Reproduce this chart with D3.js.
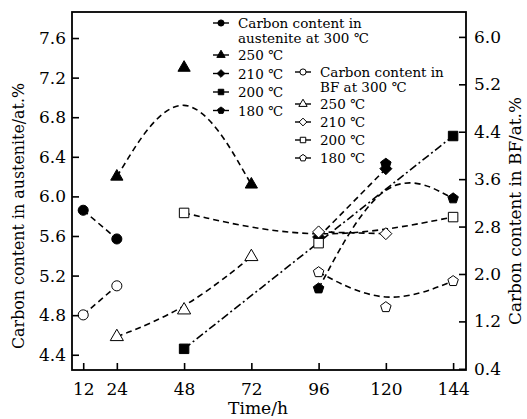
<!doctype html>
<html lang="en">
<head>
<meta charset="UTF-8">
<title>Carbon content vs time</title>
<script src="https://d3js.org/d3.v7.min.js"></script>
<style>
  body { margin: 0; background: #fff; }
  text { font-family: "DejaVu Serif", serif; fill: #000; }
</style>
</head>
<body>
<svg width="527" height="419"></svg>
<script>

// Ticks
const hourTicks = [12, 24, 48, 72, 96, 120, 144];
const leftTicks = [4.4, 4.8, 5.2, 5.6, 6.0, 6.4, 6.8, 7.2, 7.6];
const rightTicks = [0.4, 1.2, 2.0, 2.8, 3.6, 4.4, 5.2, 6.0];

// Carbon content in austenite (left axis, filled markers)
const austHours300 = [12, 24],       austC300 = [5.86, 5.57];
const austHours250 = [24, 48, 72],   austC250 = [6.20, 7.30, 6.12];
const austHours210 = [96, 120],      austC210 = [5.59, 6.28];
const austHours200 = [48, 144],      austC200 = [4.46, 6.61];
const austHours180 = [96, 120, 144], austC180 = [5.07, 6.33, 5.98];

// Carbon content in BF (right axis, open markers)
const bfHours300 = [12, 24],         bfC300 = [1.31, 1.80];
const bfHours250 = [24, 48, 72],     bfC250 = [0.94, 1.39, 2.29];
const bfHours210 = [96, 120],        bfC210 = [2.71, 2.68];
const bfHours200 = [48, 96, 144],    bfC200 = [3.03, 2.52, 2.96];
const bfHours180 = [96, 120, 144],   bfC180 = [2.03, 1.44, 1.88];

const tempLabels = ["250 ℃", "210 ℃", "200 ℃", "180 ℃"];

// custom symbols
const symbolPentagon = {
  draw(ctx, size) {
    const r = Math.sqrt(size / 2.378);
    for (let i = 0; i < 5; i++) {
      const a = -Math.PI / 2 + i * 2 * Math.PI / 5;
      if (i === 0) ctx.moveTo(r * Math.cos(a), r * Math.sin(a));
      else ctx.lineTo(r * Math.cos(a), r * Math.sin(a));
    }
    ctx.closePath();
  }
};
const symbolRhomb = {
  draw(ctx, size) {
    const r = Math.sqrt(size / 2);
    ctx.moveTo(0, -r); ctx.lineTo(r, 0); ctx.lineTo(0, r); ctx.lineTo(-r, 0);
    ctx.closePath();
  }
};

const svg = d3.select("svg");
const margin = {left: 72, right: 466, top: 12, bottom: 370};

const x = d3.scaleLinear().domain([8, 148.6]).range([margin.left, margin.right]);
const yL = d3.scaleLinear().domain([4.246, 7.863]).range([margin.bottom, margin.top]);
const yR = d3.scaleLinear().domain([0.38, 6.42]).range([margin.bottom, margin.top]);

const dashed = "6,4";
const dashDot = "8,3,2,3";

const series = [
  {h: austHours300, v: austC300, y: yL, sym: d3.symbolCircle, size: 80, fill: "#000", dash: dashed},
  {h: austHours250, v: austC250, y: yL, sym: d3.symbolTriangle, size: 65, fill: "#000", dash: dashed},
  {h: austHours210, v: austC210, y: yL, sym: symbolRhomb, size: 72, fill: "#000", dash: dashed},
  {h: austHours200, v: austC200, y: yL, sym: d3.symbolSquare, size: 90, fill: "#000", dash: dashDot},
  {h: austHours180, v: austC180, y: yL, sym: symbolPentagon, size: 72, fill: "#000", dash: dashed},
  {h: bfHours300, v: bfC300, y: yR, sym: d3.symbolCircle, size: 80, fill: "#fff", dash: dashed},
  {h: bfHours250, v: bfC250, y: yR, sym: d3.symbolTriangle, size: 75, fill: "#fff", dash: dashed},
  {h: bfHours210, v: bfC210, y: yR, sym: symbolRhomb, size: 72, fill: "#fff", dash: dashed},
  {h: bfHours200, v: bfC200, y: yR, sym: d3.symbolSquare, size: 90, fill: "#fff", dash: dashed},
  {h: bfHours180, v: bfC180, y: yR, sym: symbolPentagon, size: 72, fill: "#fff", dash: dashed}
];

// lines
series.forEach(s => {
  const line = d3.line()
      .x(d => x(d[0]))
      .y(d => s.y(d[1]))
      .curve(d3.curveBasis);
  svg.append("path")
      .datum(d3.zip(s.h, s.v))
      .attr("d", line)
      .attr("fill", "none")
      .attr("stroke", "#000")
      .attr("stroke-width", 1.6)
      .attr("stroke-dasharray", s.dash);
});

// markers (filled first, open ones on top)
series.forEach(s => {
  svg.append("g").selectAll("path")
    .data(d3.zip(s.h, s.v))
    .join("path")
      .attr("transform", d => "translate(" + x(d[0]) + "," + s.y(d[1]) + ")")
      .attr("d", d3.symbol(s.sym, s.size))
      .attr("fill", s.fill)
      .attr("stroke", "#000")
      .attr("stroke-width", 1);
});

// axes
const axisFont = g => g.selectAll("text")
    .style("font-family", "'DejaVu Serif', serif")
    .style("font-size", "17px")
    .attr("fill", "#000");

svg.append("g")
    .attr("transform", "translate(" + margin.left + ",0)")
    .call(d3.axisLeft(yL).tickValues(leftTicks).tickFormat(d3.format(".1f"))
      .tickSizeInner(-7).tickSizeOuter(0).tickPadding(6))
    .call(axisFont)
    .call(g => g.select(".domain").remove())
    .call(g => g.selectAll("line").attr("stroke-width", 1.6));

svg.append("g")
    .attr("transform", "translate(" + margin.right + ",0)")
    .call(d3.axisRight(yR).tickValues(rightTicks).tickFormat(d3.format(".1f"))
      .tickSizeInner(-7).tickSizeOuter(0).tickPadding(8))
    .call(axisFont)
    .call(g => g.select(".domain").remove())
    .call(g => g.selectAll("line").attr("stroke-width", 1.6));

svg.append("g")
    .attr("transform", "translate(0," + margin.bottom + ")")
    .call(d3.axisBottom(x).tickValues(hourTicks)
      .tickSizeInner(-7).tickSizeOuter(0).tickPadding(13))
    .call(axisFont)
    .call(g => g.select(".domain").remove())
    .call(g => g.selectAll("line").attr("stroke-width", 1.6));

// frame
svg.append("rect")
    .attr("x", margin.left).attr("y", margin.top)
    .attr("width", margin.right - margin.left)
    .attr("height", margin.bottom - margin.top)
    .attr("fill", "none").attr("stroke", "#000").attr("stroke-width", 1.8);

// axis titles
svg.append("text")
    .attr("x", 258).attr("y", 414)
    .attr("text-anchor", "middle").style("font-size", "17px")
    .attr("textLength", 60).attr("lengthAdjust", "spacingAndGlyphs")
    .text("Time/h");

svg.append("text")
    .attr("transform", "translate(24,216) rotate(-90)")
    .attr("text-anchor", "middle").style("font-size", "17px")
    .attr("textLength", 266).attr("lengthAdjust", "spacingAndGlyphs")
    .text("Carbon content in austenite/at.%");

svg.append("text")
    .attr("transform", "translate(521,211) rotate(-90)")
    .attr("text-anchor", "middle").style("font-size", "17px")
    .attr("textLength", 228).attr("lengthAdjust", "spacingAndGlyphs")
    .text("Carbon content in BF/at.%");

// legends
function legend(x0, rows, firstLine, secondLine, filled) {
  const g = svg.append("g");
  const syms = [d3.symbolCircle, d3.symbolTriangle, symbolRhomb, d3.symbolSquare, symbolPentagon];
  rows.forEach((ry, i) => {
    g.append("line")
        .attr("x1", x0 - 8).attr("x2", x0 + 8)
        .attr("y1", ry).attr("y2", ry)
        .attr("stroke", "#000").attr("stroke-width", 1.4);
    g.append("path")
        .attr("transform", "translate(" + x0 + "," + ry + ")")
        .attr("d", d3.symbol(syms[i], 30))
        .attr("fill", filled ? "#000" : "#fff")
        .attr("stroke", "#000").attr("stroke-width", 1);
  });
  g.append("text").attr("x", x0 + 17).attr("y", rows[0] + 5)
      .style("font-size", "13.5px").text(firstLine);
  g.append("text").attr("x", x0 + 17).attr("y", rows[0] + 20)
      .style("font-size", "13.5px").text(secondLine);
  tempLabels.forEach((t, i) => {
    g.append("text").attr("x", x0 + 17).attr("y", rows[i + 1] + 5)
        .style("font-size", "13.5px").text(t);
  });
}

legend(221, [23, 55, 73.5, 92, 110.5], "Carbon content in", "austenite at 300 ℃", true);
legend(303, [72, 104, 122, 140, 158], "Carbon content in", "BF at 300 ℃", false);

</script>
</body>
</html>
